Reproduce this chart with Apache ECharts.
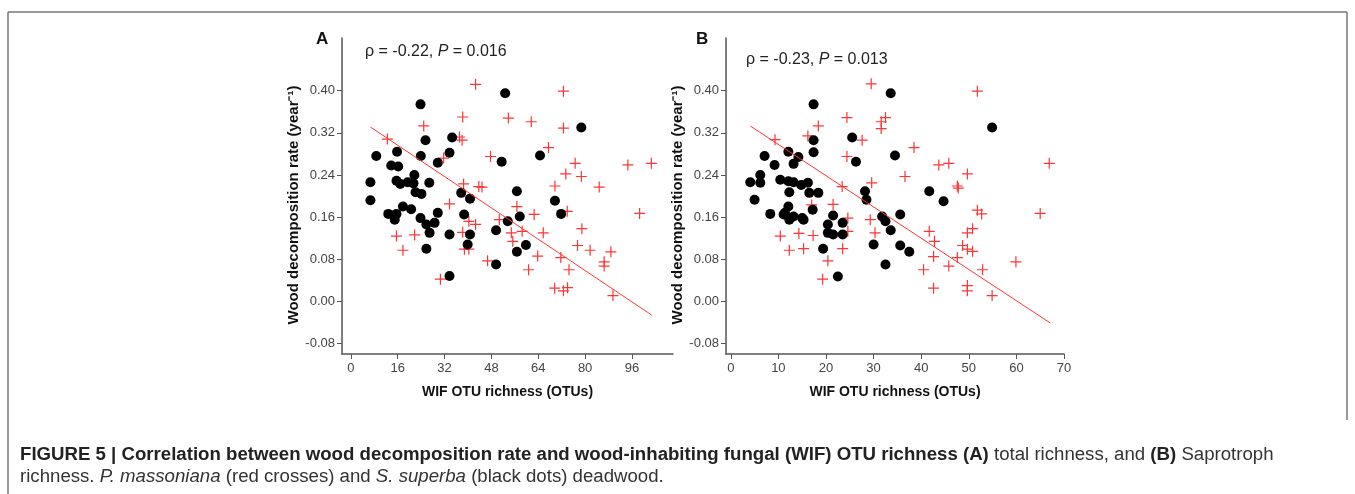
<!DOCTYPE html>
<html>
<head>
<meta charset="utf-8">
<script src="https://cdn.jsdelivr.net/npm/echarts@6/dist/echarts.min.js"></script>
<style>
  html, body { margin: 0; padding: 0; background: #fff; }
  #chart { width: 1355px; height: 494px; }
</style>
</head>
<body>
<div id="chart"></div>
<script>
// tick labels
var yTicks = [-0.08, 0, 0.08, 0.16, 0.24, 0.32, 0.40];
var xTicksA = [0, 16, 32, 48, 64, 80, 96];
var xTicksB = [0, 10, 20, 30, 40, 50, 60, 70];

// panel A: total WIF OTU richness vs decomposition rate
var redA = [
  [42.6, 0.412], [38.2, 0.350], [24.9, 0.333], [12.5, 0.308], [37.1, 0.312], [38.0, 0.306],
  [31.7, 0.272], [38.5, 0.223], [43.7, 0.218], [33.7, 0.185], [72.6, 0.399], [53.8, 0.348],
  [61.6, 0.341], [72.6, 0.329], [67.5, 0.292], [47.7, 0.275], [76.6, 0.262], [73.4, 0.242],
  [78.7, 0.237], [94.6, 0.259], [102.6, 0.262], [44.8, 0.217], [69.7, 0.219], [84.8, 0.217],
  [56.7, 0.180], [62.6, 0.165], [73.9, 0.171], [98.6, 0.167], [15.6, 0.124], [21.8, 0.126],
  [17.8, 0.097], [30.6, 0.042], [38.2, 0.131], [40.3, 0.099], [38.8, 0.099], [40.3, 0.152],
  [42.6, 0.146], [50.7, 0.155], [54.8, 0.130], [58.5, 0.133], [55.3, 0.114], [65.7, 0.130],
  [78.9, 0.138], [77.4, 0.106], [81.7, 0.097], [88.8, 0.094], [46.7, 0.077], [63.8, 0.086],
  [60.7, 0.060], [71.7, 0.083], [74.5, 0.060], [86.5, 0.075], [86.5, 0.067], [69.6, 0.025],
  [72.6, 0.020], [74.0, 0.026], [89.5, 0.011]
];
var blackA = [
  [23.8, 0.374], [25.5, 0.306], [34.6, 0.311], [8.7, 0.276], [15.8, 0.284], [13.8, 0.258],
  [16.2, 0.256], [23.9, 0.276], [29.7, 0.263], [33.7, 0.282], [21.7, 0.240], [15.6, 0.229],
  [16.9, 0.223], [19.4, 0.226], [21.4, 0.224], [22.1, 0.207], [24.1, 0.204], [26.8, 0.225],
  [6.7, 0.226], [6.7, 0.192], [12.8, 0.166], [15.6, 0.166], [17.8, 0.180], [20.6, 0.175],
  [23.8, 0.158], [29.7, 0.168], [37.7, 0.206], [40.7, 0.195], [38.7, 0.165], [52.7, 0.395],
  [78.7, 0.330], [64.6, 0.277], [51.5, 0.265], [56.7, 0.209], [69.7, 0.191], [71.8, 0.166],
  [57.7, 0.161], [15.0, 0.155], [25.8, 0.146], [26.9, 0.130], [28.6, 0.149], [25.8, 0.100],
  [33.7, 0.127], [40.7, 0.127], [39.9, 0.108], [33.7, 0.048], [53.6, 0.152], [49.6, 0.135],
  [59.8, 0.107], [56.7, 0.094], [49.6, 0.070]
];
var fitA = [[6.7, 0.331], [102.7, -0.026]];

// panel B: saprotroph richness vs decomposition rate
var redB = [
  [29.5, 0.413], [24.4, 0.349], [18.4, 0.333], [9.3, 0.307], [16.2, 0.314], [27.6, 0.306],
  [24.4, 0.275], [23.4, 0.218], [21.5, 0.184], [29.6, 0.225], [51.8, 0.399], [32.5, 0.349],
  [31.6, 0.341], [31.6, 0.328], [38.5, 0.292], [43.7, 0.259], [45.8, 0.262], [36.6, 0.237],
  [49.7, 0.242], [47.6, 0.219], [47.8, 0.215], [66.9, 0.262], [51.8, 0.173], [52.7, 0.166],
  [65.0, 0.167], [10.4, 0.124], [14.3, 0.129], [17.3, 0.125], [12.3, 0.097], [15.3, 0.100],
  [23.5, 0.100], [20.4, 0.077], [19.3, 0.042], [24.6, 0.158], [24.6, 0.133], [29.3, 0.155],
  [17.0, 0.183], [30.3, 0.130], [41.7, 0.133], [42.8, 0.114], [42.6, 0.085], [40.5, 0.060],
  [45.8, 0.067], [42.6, 0.025], [49.7, 0.130], [50.8, 0.138], [48.7, 0.106], [49.7, 0.099],
  [50.8, 0.095], [47.6, 0.083], [52.9, 0.060], [49.7, 0.030], [49.7, 0.020], [54.9, 0.011],
  [59.9, 0.075]
];
var blackB = [
  [17.4, 0.374], [17.4, 0.306], [17.4, 0.283], [25.5, 0.311], [26.3, 0.265], [7.1, 0.276],
  [9.2, 0.259], [12.1, 0.284], [13.2, 0.261], [14.2, 0.274], [6.2, 0.240], [6.2, 0.225],
  [4.1, 0.226], [5.0, 0.193], [10.4, 0.231], [12.1, 0.228], [13.2, 0.226], [14.8, 0.221],
  [16.2, 0.225], [16.5, 0.206], [18.4, 0.206], [12.3, 0.207], [17.2, 0.174], [8.3, 0.166],
  [11.4, 0.168], [12.1, 0.180], [13.2, 0.161], [15.0, 0.158], [21.5, 0.163], [28.2, 0.209],
  [28.5, 0.193], [33.6, 0.395], [54.9, 0.330], [34.5, 0.277], [41.7, 0.209], [44.7, 0.190],
  [35.6, 0.165], [31.8, 0.161], [11.1, 0.165], [12.3, 0.155], [15.3, 0.155], [20.4, 0.146],
  [20.4, 0.130], [21.5, 0.127], [23.5, 0.149], [23.5, 0.127], [19.4, 0.100], [22.5, 0.047],
  [30.0, 0.108], [32.5, 0.152], [33.6, 0.135], [35.6, 0.106], [37.5, 0.094], [32.5, 0.070]
];
var fitB = [[4.1, 0.333], [67.1, -0.041]];

var FONT = 'Liberation Sans, Arial, Helvetica, sans-serif';
var RED = '#ff3535';
var AXIS = '#555';
var crossPath = 'path://M4.45,0 h1.1 v4.45 h4.45 v1.1 h-4.45 v4.45 h-1.1 v-4.45 h-4.45 v-1.1 h4.45 z';

function xAxisOf(idx, min, max, ticks) {
  return {
    type: 'value', gridIndex: idx, min: min, max: max,
    name: 'WIF OTU richness (OTUs)', nameLocation: 'middle', nameGap: 31,
    nameTextStyle: { fontFamily: FONT, fontSize: 14, fontWeight: 'bold', color: '#111' },
    axisLine: { show: true, onZero: false, lineStyle: { color: AXIS, width: 1.5 } },
    axisTick: { show: true, length: 5, customValues: ticks, lineStyle: { color: AXIS } },
    axisLabel: { customValues: ticks, margin: 8, fontFamily: FONT, fontSize: 13, color: '#444' },
    splitLine: { show: false }
  };
}
function yAxisOf(idx) {
  return {
    type: 'value', gridIndex: idx, min: -0.1, max: 0.5,
    name: 'Wood decomposition rate (year\u207B\u00B9)', nameLocation: 'middle', nameGap: 37,
    nameTextStyle: {
      fontFamily: FONT, fontSize: 15, fontWeight: 'bold', color: '#111',
      padding: [0, 18, 0, 0]
    },
    axisLine: { show: true, onZero: false, lineStyle: { color: AXIS, width: 1.5 } },
    axisTick: { show: true, length: 5, customValues: yTicks, lineStyle: { color: AXIS } },
    axisLabel: {
      customValues: yTicks, margin: 7, fontFamily: FONT, fontSize: 13, color: '#444',
      formatter: function (v) { return v.toFixed(2); }
    },
    splitLine: { show: false }
  };
}
function panelSeries(idx, red, black, fit) {
  return [
    {
      type: 'scatter', xAxisIndex: idx, yAxisIndex: idx, data: red,
      symbol: crossPath, symbolSize: 11, itemStyle: { color: RED, opacity: 1 }, z: 2
    },
    {
      type: 'scatter', xAxisIndex: idx, yAxisIndex: idx, data: black,
      symbol: 'circle', symbolSize: 10, itemStyle: { color: '#000', opacity: 1 }, z: 3
    },
    {
      type: 'line', xAxisIndex: idx, yAxisIndex: idx, data: fit,
      symbol: 'none', lineStyle: { color: RED, width: 1 }, z: 4, silent: true
    }
  ];
}

var statRich = {
  n: { fontFamily: FONT, fontSize: 16, fill: '#222' },
  i: { fontFamily: FONT, fontSize: 16, fontStyle: 'italic', fill: '#222' }
};
var capRich = {
  b: { fontFamily: FONT, fontSize: 18, fontWeight: 'bold', fill: '#222' },
  n: { fontFamily: FONT, fontSize: 18, fill: '#333' },
  i: { fontFamily: FONT, fontSize: 18, fontStyle: 'italic', fill: '#333' }
};

var chart = echarts.init(document.getElementById('chart'), null, { renderer: 'canvas' });
chart.setOption({
  animation: false,
  backgroundColor: '#fff',
  grid: [
    { left: 342, top: 38, width: 331, height: 316, outerBoundsMode: 'none', containLabel: false },
    { left: 726, top: 38, width: 338, height: 316, outerBoundsMode: 'none', containLabel: false }
  ],
  xAxis: [xAxisOf(0, -3, 110, xTicksA), xAxisOf(1, -1, 70, xTicksB)],
  yAxis: [yAxisOf(0), yAxisOf(1)],
  series: panelSeries(0, redA, blackA, fitA).concat(panelSeries(1, redB, blackB, fitB)),
  graphic: [
    // figure frame
    { type: 'line', shape: { x1: 8, y1: 12, x2: 1347, y2: 12 }, style: { stroke: '#777', lineWidth: 1.5 } },
    { type: 'line', shape: { x1: 8, y1: 12, x2: 8, y2: 494 }, style: { stroke: '#777', lineWidth: 1.5 } },
    { type: 'line', shape: { x1: 1347, y1: 12, x2: 1347, y2: 420 }, style: { stroke: '#777', lineWidth: 1.5 } },
    // panel letters
    { type: 'text', x: 316, y: 31, style: { text: 'A', font: 'bold 17px ' + FONT, fill: '#111' } },
    { type: 'text', x: 696, y: 31, style: { text: 'B', font: 'bold 17px ' + FONT, fill: '#111' } },
    // correlation stats
    { type: 'text', x: 365, y: 44, style: { text: '{n|\u03C1 = -0.22, }{i|P}{n| = 0.016}', rich: statRich } },
    { type: 'text', x: 746, y: 52, style: { text: '{n|\u03C1 = -0.23, }{i|P}{n| = 0.013}', rich: statRich } },
    // caption
    {
      type: 'text', x: 20, y: 446, scaleX: 1.035,
      style: {
        text: '{b|FIGURE 5 | Correlation between wood decomposition rate and wood-inhabiting fungal (WIF) OTU richness (A)}{n| total richness, and }{b|(B)}{n| Saprotroph}',
        rich: capRich
      }
    },
    {
      type: 'text', x: 20, y: 468, scaleX: 1.035,
      style: {
        text: '{n|richness. }{i|P. massoniana}{n| (red crosses) and }{i|S. superba}{n| (black dots) deadwood.}',
        rich: capRich
      }
    }
  ]
});
</script>
</body>
</html>
